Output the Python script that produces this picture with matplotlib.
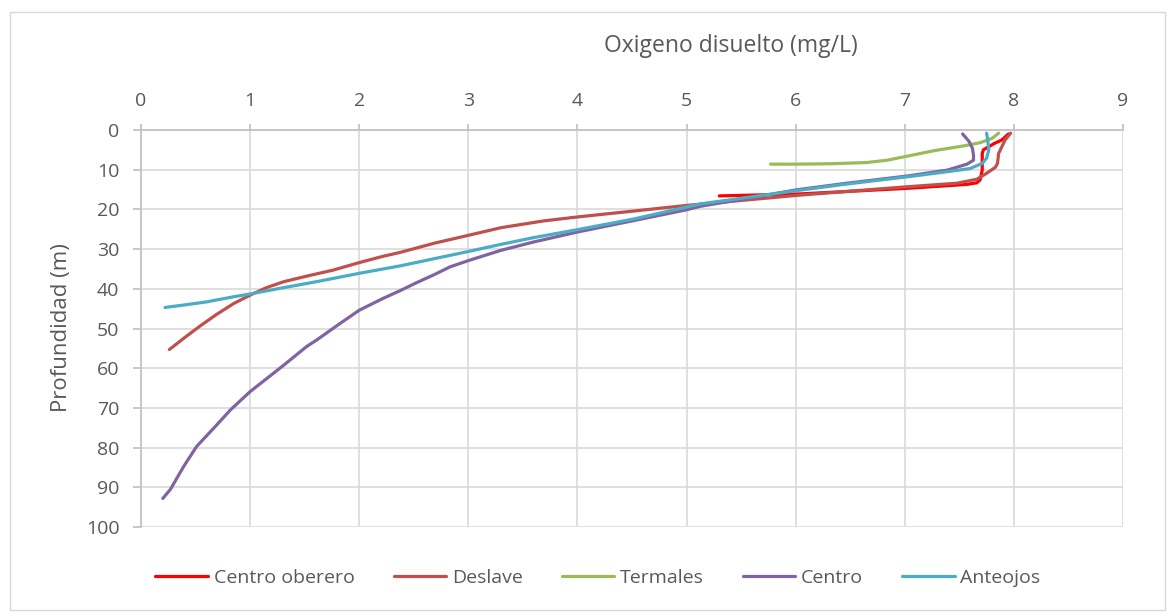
import matplotlib.pyplot as plt
from matplotlib.patches import Rectangle

plt.rcParams["font.family"] = ["Open Sans", "DejaVu Sans"]

# Oxygen (mg/L) vs depth (m)
centro_oberero_od = [7.95, 7.89, 7.82, 7.72, 7.71, 7.71, 7.69, 7.66, 7.57, 7.02, 6.04, 5.30]
centro_oberero_z = [1.0, 2.5, 3.4, 5.0, 5.9, 10.1, 12.6, 13.3, 13.7, 14.7, 16.1, 16.6]

deslave_od = [7.97, 7.92, 7.86, 7.85, 7.83, 7.75, 7.66, 7.48, 7.02, 6.04, 5.00, 4.52, 4.00,
              3.69, 3.30, 2.99, 2.69, 2.38, 2.22, 2.00, 1.76, 1.52, 1.31, 1.15, 1.00, 0.85,
              0.69, 0.54, 0.39, 0.26]
deslave_z = [0.8, 2.5, 5.9, 8.4, 9.4, 10.9, 12.4, 13.4, 14.3, 16.4, 19.0, 20.4, 21.9,
             22.9, 24.6, 26.6, 28.5, 30.8, 31.8, 33.4, 35.3, 36.8, 38.2, 39.7, 41.6, 43.7,
             46.5, 49.4, 52.5, 55.3]

termales_od = [7.86, 7.80, 7.69, 7.54, 7.27, 7.02, 6.84, 6.65, 6.32, 6.01, 5.77]
termales_z = [0.8, 2.1, 3.2, 4.0, 5.2, 6.6, 7.6, 8.2, 8.5, 8.6, 8.6]

centro_od = [7.53, 7.59, 7.62, 7.63, 7.63, 7.57, 7.39, 7.02, 6.47, 6.00, 5.50, 5.13, 5.00,
             4.52, 4.00, 3.60, 3.30, 3.00, 2.83, 2.69, 2.53, 2.38, 2.22, 2.00, 1.80, 1.61,
             1.52, 1.31, 1.00, 0.82, 0.67, 0.51, 0.39, 0.27, 0.20]
centro_z = [1.0, 2.9, 4.6, 6.3, 7.6, 8.6, 10.1, 11.6, 13.4, 15.1, 17.5, 19.2, 20.1,
            22.8, 25.7, 28.2, 30.3, 32.9, 34.5, 36.4, 38.4, 40.4, 42.4, 45.4, 49.2, 52.9,
            54.5, 59.2, 65.9, 70.5, 75.0, 79.7, 84.8, 90.5, 92.8]

anteojos_od = [7.75, 7.76, 7.77, 7.75, 7.71, 7.60, 7.39, 7.02, 6.47, 6.00, 5.50, 5.13, 5.00,
               4.52, 4.00, 3.60, 3.30, 3.00, 2.69, 2.38, 2.00, 1.61, 1.31, 1.00, 0.85, 0.60,
               0.39, 0.22]
anteojos_z = [0.8, 2.5, 5.0, 7.1, 8.4, 9.7, 10.5, 11.8, 13.6, 15.3, 17.2, 18.6, 19.4,
              22.4, 25.1, 27.1, 28.8, 30.6, 32.4, 34.2, 36.1, 38.2, 39.7, 41.3, 42.0, 43.3,
              44.1, 44.7]

series = [
    ("Centro oberero", centro_oberero_od, centro_oberero_z, "#FF0000"),
    ("Deslave", deslave_od, deslave_z, "#C0504D"),
    ("Termales", termales_od, termales_z, "#9BBB59"),
    ("Centro", centro_od, centro_z, "#8064A2"),
    ("Anteojos", anteojos_od, anteojos_z, "#4BACC6"),
]

x_ticks = list(range(0, 10))
y_ticks = list(range(0, 101, 10))

text_color = "#595959"
grid_color = "#D9D9D9"

W, H = 1167, 612
fig = plt.figure(figsize=(W / 100, H / 100), dpi=100)
ax = fig.add_axes([141 / W, 1 - 527 / H, (1123 - 141) / W, (527 - 130) / H])

for name, od, z, color in series:
    ax.plot(od, z, color=color, lw=2.3, label=name,
            solid_capstyle="round", solid_joinstyle="round")

ax.set_xlim(0, 9)
ax.set_ylim(100, 0)
ax.set_xticks(x_ticks)
ax.set_yticks(y_ticks)
ax.xaxis.tick_top()
ax.grid(True, color=grid_color, lw=1.2)
ax.set_axisbelow(True)

for side in ["right", "bottom"]:
    ax.spines[side].set_visible(False)
for side in ["left", "top"]:
    ax.spines[side].set_color("#BFBFBF")
    ax.spines[side].set_linewidth(1.2)

ax.tick_params(axis="both", colors="#BFBFBF", width=1.2, labelcolor=text_color, labelsize=14)
ax.tick_params(axis="x", length=4.5, pad=10)
ax.tick_params(axis="y", length=5.5, pad=10)

# axis titles placed where the reference has them
fig.text(731 / W, 1 - 46 / H, "Oxigeno disuelto (mg/L)", fontsize=16.5, color=text_color,
         ha="center", va="center")
fig.text(61 / W, 1 - 328 / H, "Profundidad (m)", fontsize=16, color=text_color,
         ha="center", va="center", rotation=90)

fig.legend(loc="center", bbox_to_anchor=(598 / W, 1 - 578 / H), ncol=5, frameon=False,
           fontsize=14, handlelength=2.7, handletextpad=0.3, columnspacing=2.0,
           labelcolor=text_color)

fig.patches.append(Rectangle((10 / W, 2 / H), 1155 / W, 598 / H,
                             transform=fig.transFigure, fill=False,
                             edgecolor=grid_color, lw=1))

fig.savefig("out.png", dpi=100)
